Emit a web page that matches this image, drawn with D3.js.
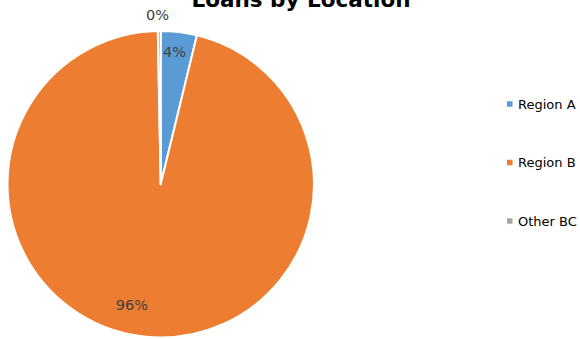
<!DOCTYPE html>
<html>
<head>
<meta charset="utf-8">
<script src="https://cdn.jsdelivr.net/npm/d3@7"></script>
<style>
  body { margin: 0; background: #fff; }
  svg { display: block; }
</style>
</head>
<body>
<svg id="chart" width="580" height="339"></svg>
<script>
// データ
const regions = ["Region A", "Region B", "Other BC"];
const shares = [3.8, 95.9, 0.3];
const pctLabels = ["4%", "96%", "0%"];
const colors = ["#5B9BD5", "#ED7D31", "#A5A5A5"];

const width = 580, height = 339;
const cx = 160.7, cy = 184.2, radius = 153.2;
const fontFamily = "'DejaVu Sans', sans-serif";

const svg = d3.select("#chart");

// タイトル（上部で切れている）
svg.append("text")
  .attr("x", 301)
  .attr("y", 7)
  .attr("text-anchor", "middle")
  .attr("font-family", fontFamily)
  .attr("font-weight", "bold")
  .attr("font-size", "21.5px")
  .attr("fill", "#000")
  .text("Loans by Location");

const pie = d3.pie().sort(null).value(d => d)(shares);
const arc = d3.arc().innerRadius(0).outerRadius(radius);

const g = svg.append("g").attr("transform", `translate(${cx},${cy})`);

g.selectAll("path.slice")
  .data(pie)
  .enter().append("path")
  .attr("class", "slice")
  .attr("d", arc)
  .attr("fill", (d, i) => colors[i])
  .attr("stroke", "#fff")
  .attr("stroke-width", 2)
  .attr("stroke-linejoin", "round");

// ラベル位置（半径比と角度のずれ、Excel の best fit 風）
const labelRadius = [0.866, 0.81, 1.108];
const labelShift = [-0.015, 0.124, -0.01];

g.selectAll("text.pct")
  .data(pie)
  .enter().append("text")
  .attr("class", "pct")
  .attr("transform", (d, i) => {
    const a = (d.startAngle + d.endAngle) / 2 + labelShift[i];
    const r = radius * labelRadius[i];
    return `translate(${r * Math.sin(a)},${-r * Math.cos(a)})`;
  })
  .attr("text-anchor", "middle")
  .attr("dy", "0.36em")
  .attr("font-family", fontFamily)
  .attr("font-size", "14.5px")
  .attr("fill", "#404040")
  .text((d, i) => pctLabels[i]);

// 凡例
const legendY = d3.scalePoint().domain(regions).range([104, 221]);
const legend = svg.append("g");
regions.forEach((r, i) => {
  legend.append("rect")
    .attr("x", 507)
    .attr("y", legendY(r) - 2.75)
    .attr("width", 5.5)
    .attr("height", 5.5)
    .attr("fill", colors[i]);
  legend.append("text")
    .attr("x", 518)
    .attr("y", legendY(r))
    .attr("dy", "0.36em")
    .attr("font-family", fontFamily)
    .attr("font-size", "13px")
    .attr("fill", "#000")
    .text(r);
});
</script>
</body>
</html>
